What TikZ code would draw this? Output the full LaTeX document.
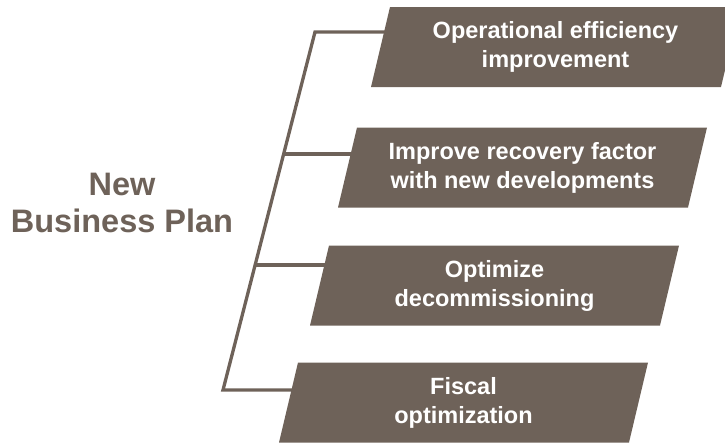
\documentclass[tikz,border=0pt]{standalone}
\usepackage{fontspec}
\setmainfont{Liberation Sans}
\definecolor{taupe}{HTML}{6E6259}
\tikzset{
  boxtext/.style={text=white, font=\fontsize{23.5}{29}\selectfont\bfseries, align=center, inner sep=0pt},
  linkline/.style={draw=taupe, line width=3.3pt, line join=miter},
  boxfill/.style={fill=taupe}
}
\newcommand{\parabox}[4]{% name, cx, cy, text
  \fill[boxfill] (#2-165.5,#3-40) -- (#2+184.5,#3-40) -- (#2+165.5,#3+40) -- (#2-184.5,#3+40) -- cycle;
  \node[boxtext] (#1) at (#2,#3) {#4};
}
\begin{document}
\begin{tikzpicture}[x=1pt,y=-1pt]
\useasboundingbox (0,0) rectangle (725,442);
% trunk and branch points
\coordinate (t1) at (315,32);
\coordinate (t2) at (283.6,154);
\coordinate (t3) at (255.1,265);
\coordinate (t4) at (223,390);
% box anchor points (left edges)
\coordinate (e1) at (390,32);
\coordinate (e2) at (356,154);
\coordinate (e3) at (330,265);
\coordinate (e4) at (297,390);
\draw[linkline] (e1) -- (t1) -- (t4) -- (e4);
\draw[linkline] (t2) -- (e2);
\draw[linkline] (t3) -- (e3);
\parabox{b1}{555.5}{47}{Operational efficiency\\improvement}
\parabox{b2}{522.5}{167.5}{Improve recovery factor\\with new developments}
\parabox{b3}{494.5}{285.5}{Optimize\\decommissioning}
\parabox{b4}{463.5}{402.5}{Fiscal\\optimization}
\node[text=taupe, font=\fontsize{32.5}{37}\selectfont\bfseries, align=center, inner sep=0pt] (plan) at (122,203) {New\\Business Plan};
\end{tikzpicture}
\end{document}
